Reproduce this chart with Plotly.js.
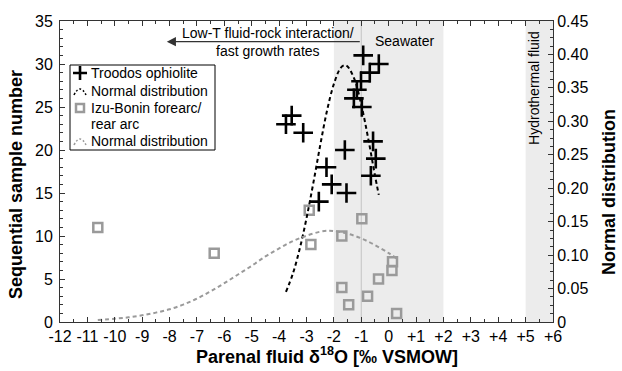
<!DOCTYPE html>
<html>
<head>
<meta charset="utf-8">
<script src="https://cdn.plot.ly/plotly-3.0.1.min.js"></script>
<style>
  html, body { margin: 0; padding: 0; background: #fff; }
  #chart { width: 622px; height: 371px; }
</style>
</head>
<body>
<div id="chart"></div>
<script>
// Troodos ophiolite: parental fluid d18O vs sequential sample number
const troodosX = [-2.55, -1.54, -2.08, -0.65, -2.27, -0.47, -1.60, -0.57, -3.12, -3.75,
                  -3.54, -0.98, -1.27, -1.16, -1.01, -0.69, -0.36, -0.93];
const troodosN = [14, 15, 16, 17, 18, 19, 20, 21, 22, 23,
                  24, 25, 26, 27, 28, 29, 30, 31];

// Izu-Bonin forearc / rear arc samples
const izuX = [0.29, -1.46, -0.77, -1.71, -0.37, 0.12, 0.14, -6.37, -2.84, -1.71,
              -10.62, -0.98, -2.90];
const izuN = [1, 2, 3, 4, 5, 6, 7, 8, 9, 10, 11, 12, 13];

// Normal distribution curve for the Troodos data (right axis)
const troodosNormX = [-3.75, -3.5, -3.25, -3.0, -2.75, -2.5, -2.25, -2.0, -1.75, -1.6,
                      -1.5, -1.25, -1.0, -0.75, -0.5, -0.36];
const troodosNormY = [0.045, 0.072, 0.109, 0.155, 0.208, 0.264, 0.316, 0.356, 0.380, 0.384,
                      0.382, 0.363, 0.325, 0.275, 0.219, 0.190];

// Normal distribution curve for the Izu-Bonin data (right axis)
const izuNormX = [-10.62, -10.0, -9.5, -9.0, -8.5, -8.0, -7.5, -7.0, -6.5, -6.0,
                  -5.5, -5.0, -4.5, -4.0, -3.5, -3.0, -2.5, -2.2, -2.0, -1.5,
                  -1.0, -0.5, 0.0, 0.29];
const izuNormY = [0.003, 0.005, 0.007, 0.010, 0.014, 0.019, 0.026, 0.035, 0.046, 0.058,
                  0.071, 0.084, 0.098, 0.110, 0.121, 0.129, 0.135, 0.1365, 0.136, 0.132,
                  0.125, 0.115, 0.103, 0.095];

// Axis ticks
const xTickVals = [-12, -11, -10, -9, -8, -7, -6, -5, -4, -3, -2, -1, 0, 1, 2, 3, 4, 5, 6];
const xTickText = ["-12", "-11", "-10", "-9", "-8", "-7", "-6", "-5", "-4", "-3", "-2", "-1",
                   "0", "+1", "+2", "+3", "+4", "+5", "+6"];
const y2TickVals = [0, 0.05, 0.10, 0.15, 0.20, 0.25, 0.30, 0.35, 0.40, 0.45];
const y2TickText = ["0", "0.05", "0.10", "0.15", "0.20", "0.25", "0.30", "0.35", "0.40", "0.45"];

// Legend entries (labels, one per row)
const legendLabels = ["Troodos ophiolite", "Normal distribution", "Izu-Bonin forearc/", "rear arc", "Normal distribution"];

const FONT = "Liberation Sans, Arial, sans-serif";
const AX = "#333";
const GREY = "#9a9a9a";

// plot area in pixels, used to place the legend box and titles
const W = 622, H = 371;
const M = { l: 60, r: 69, t: 21, b: 49 };
const PW = W - M.l - M.r, PH = H - M.t - M.b;
const px = v => (v - M.l) / PW;             // pixel x -> paper x
const py = v => (H - M.b - v) / PH;         // pixel y -> paper y

const traces = [
  {
    x: troodosX, y: troodosN, type: "scatter", mode: "markers",
    name: "Troodos ophiolite",
    marker: { symbol: "cross-thin-open", size: 14, color: "#000", line: { color: "#000", width: 2.6 } },
    yaxis: "y"
  },
  {
    x: troodosNormX, y: troodosNormY, type: "scatter", mode: "lines",
    name: "Normal distribution", line: { color: "#000", width: 2, dash: "4px,3px", shape: "spline" },
    yaxis: "y2"
  },
  {
    x: izuX, y: izuN, type: "scatter", mode: "markers",
    name: "Izu-Bonin forearc/ rear arc",
    marker: { symbol: "square-open", size: 9, color: GREY, line: { color: GREY, width: 2.5 } },
    yaxis: "y"
  },
  {
    x: izuNormX, y: izuNormY, type: "scatter", mode: "lines",
    name: "Normal distribution", line: { color: GREY, width: 2, dash: "4px,3px", shape: "spline" },
    yaxis: "y2"
  }
];

// legend box and keys, drawn in paper coordinates
const lgX0 = 70, lgX1 = 215, lgY0 = 65, lgY1 = 150, keyX = 80, textX = 89;
const rowY = [73, 91, 108, 124, 141];
const P = (x, y) => px(x).toFixed(4) + "," + py(y).toFixed(4);

const legendShapes = [
  { type: "rect", xref: "paper", yref: "paper", x0: px(lgX0), x1: px(lgX1), y0: py(lgY1), y1: py(lgY0),
    fillcolor: "#fff", line: { color: "#000", width: 1 }, layer: "above" },
  { type: "path", xref: "paper", yref: "paper",
    path: "M" + P(keyX - 7, rowY[0]) + "L" + P(keyX + 7, rowY[0]) + "M" + P(keyX, rowY[0] - 7) + "L" + P(keyX, rowY[0] + 7),
    line: { color: "#000", width: 2.6 }, layer: "above" },
  { type: "path", xref: "paper", yref: "paper",
    path: "M" + P(keyX - 6, rowY[1] + 4) + "Q" + P(keyX, rowY[1] - 8) + " " + P(keyX + 6, rowY[1] + 4),
    line: { color: "#000", width: 1.5, dash: "2px,2px" }, layer: "above" },
  { type: "rect", xref: "paper", yref: "paper", x0: px(keyX - 4), x1: px(keyX + 4), y0: py(rowY[2] + 4), y1: py(rowY[2] - 4),
    fillcolor: "#fff", line: { color: GREY, width: 2.5 }, layer: "above" },
  { type: "path", xref: "paper", yref: "paper",
    path: "M" + P(keyX - 6, rowY[4] + 4) + "Q" + P(keyX, rowY[4] - 8) + " " + P(keyX + 6, rowY[4] + 4),
    line: { color: GREY, width: 1.5, dash: "2px,2px" }, layer: "above" }
];

const legendText = legendLabels.map((t, i) => ({
  xref: "paper", yref: "paper", x: px(textX), y: py(rowY[i]), xanchor: "left", yanchor: "middle",
  showarrow: false, text: t, font: { family: FONT, size: 14, color: "#000" }
}));

const layout = {
  width: W, height: H,
  margin: M,
  paper_bgcolor: "#fff", plot_bgcolor: "rgba(0,0,0,0)",
  font: { family: FONT, size: 16, color: "#000" },
  showlegend: false,
  xaxis: {
    range: [-12, 6], tickvals: xTickVals, ticktext: xTickText,
    ticks: "inside", ticklen: 5, tickcolor: AX, tickwidth: 1,
    minor: { dtick: 0.5, ticks: "inside", ticklen: 3, tickcolor: AX },
    showline: true, linecolor: AX, linewidth: 1, mirror: "ticks",
    showgrid: false, zeroline: false,
    tickfont: { family: FONT, size: 16 }
  },
  yaxis: {
    range: [0, 35], dtick: 5,
    ticks: "inside", ticklen: 5, tickcolor: AX,
    minor: { dtick: 1, ticks: "inside", ticklen: 3, tickcolor: AX },
    showline: true, linecolor: AX, linewidth: 1, mirror: false,
    showgrid: false, zeroline: false, ticklabelstandoff: 3,
    tickfont: { family: FONT, size: 16 }
  },
  yaxis2: {
    range: [0, 0.45], overlaying: "y", side: "right",
    tickvals: y2TickVals, ticktext: y2TickText,
    ticks: "inside", ticklen: 5, tickcolor: AX,
    minor: { dtick: 0.0125, ticks: "inside", ticklen: 3, tickcolor: AX },
    showline: true, linecolor: AX, linewidth: 1,
    showgrid: false, zeroline: false,
    tickfont: { family: FONT, size: 16 }
  },
  shapes: [
    // seawater range
    { type: "rect", xref: "x", yref: "paper", x0: -2, x1: 2, y0: 0, y1: 1,
      fillcolor: "#ececec", line: { width: 0 }, layer: "below" },
    // hydrothermal fluid range
    { type: "rect", xref: "x", yref: "paper", x0: 5, x1: 6, y0: 0, y1: 1,
      fillcolor: "#ececec", line: { width: 0 }, layer: "below" },
    // modern seawater reference
    { type: "line", xref: "x", yref: "paper", x0: -1, x1: -1, y0: 0, y1: 1,
      line: { color: "#c4c4c4", width: 1 }, layer: "below" }
  ].concat(legendShapes),
  annotations: [
    { xref: "x", yref: "y", x: -8.1, y: 32.6, ax: -1, ay: 32.6, axref: "x", ayref: "y",
      text: "", showarrow: true, arrowhead: 2, arrowsize: 1.3, arrowwidth: 1.4, arrowcolor: "#333" },
    { xref: "x", yref: "y", x: -4.4, y: 32.6, showarrow: false,
      text: "Low-T fluid-rock interaction/<br>fast growth rates",
      font: { family: FONT, size: 14, color: "#000" }, align: "center" },
    { xref: "x", yref: "y", x: 0.57, y: 32.7, showarrow: false, text: "Seawater",
      font: { family: FONT, size: 14, color: "#000" } },
    { xref: "x", yref: "y", x: 5.3, y: 27.2, showarrow: false, text: "Hydrothermal fluid",
      textangle: -90, font: { family: FONT, size: 14, color: "#000" } },
    // axis titles
    { xref: "paper", yref: "paper", x: px(327), y: py(355), xanchor: "center", yanchor: "middle",
      showarrow: false, text: "Parenal fluid δ<sup>18</sup>O [‰ VSMOW]",
      font: { family: FONT, size: 18, color: "#000", weight: "bold" } },
    { xref: "paper", yref: "paper", x: px(16), y: py(185), xanchor: "center", yanchor: "middle",
      showarrow: false, textangle: -90, text: "Sequential sample number",
      font: { family: FONT, size: 18, color: "#000", weight: "bold" } },
    { xref: "paper", yref: "paper", x: px(609), y: py(192), xanchor: "center", yanchor: "middle",
      showarrow: false, textangle: -90, text: "Normal distribution",
      font: { family: FONT, size: 18, color: "#000", weight: "bold" } }
  ].concat(legendText)
};

Plotly.newPlot("chart", traces, layout, { displayModeBar: false, staticPlot: true });
</script>
</body>
</html>
